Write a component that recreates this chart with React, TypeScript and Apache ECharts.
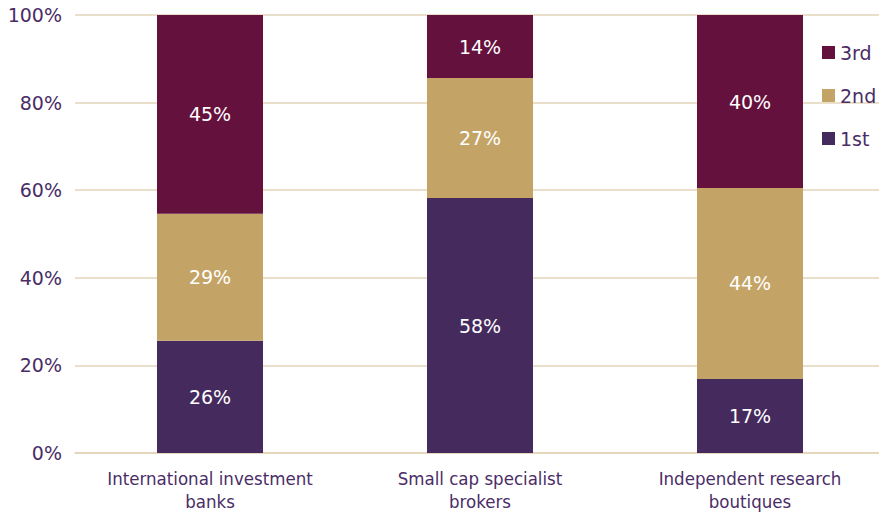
import React, { useEffect, useRef } from "react";
import * as echarts from "echarts";

const categories = [
  "International investment\nbanks",
  "Small cap specialist\nbrokers",
  "Independent research\nboutiques",
];
const first = [25.6, 58.2, 16.9];
const second = [29.0, 27.4, 43.6];
const third = [45.4, 14.4, 39.5];
const yTicks = [0, 20, 40, 60, 80, 100];

const PURPLE = "#452a5e";
const TAN = "#c4a466";
const MAROON = "#65113d";
const TEXT = "#4a2d66";
const GRID = "#e2d4b8";

export default function App() {
  const ref = useRef<HTMLDivElement>(null);
  useEffect(() => {
    if (!ref.current) return;
    const chart = echarts.init(ref.current, null, { renderer: "svg" });
    const label = {
      show: true,
      position: "inside",
      color: "#ffffff",
      fontSize: 19,
      fontFamily: "DejaVu Sans",
      formatter: (p: any) => Math.round(p.value) + "%",
    };
    chart.setOption({
      animation: false,
      grid: { left: 75, right: 0, top: 15, bottom: 61, containLabel: false },
      legend: {
        orient: "vertical",
        left: 817,
        top: 38,
        itemGap: 24,
        itemWidth: 13,
        itemHeight: 13,
        icon: "rect",
        data: ["3rd", "2nd", "1st"],
        textStyle: { color: TEXT, fontSize: 19, fontFamily: "DejaVu Sans" },
      },
      xAxis: {
        type: "category",
        data: categories,
        axisLine: { lineStyle: { color: GRID, width: 1.5 } },
        axisTick: { show: false },
        axisLabel: {
          color: TEXT,
          fontSize: 18.5,
          fontFamily: "DejaVu Sans Condensed",
          lineHeight: 23,
          margin: 14,
        },
      },
      yAxis: {
        type: "value",
        min: 0,
        max: 100,
        interval: 20,
        axisLine: { show: false },
        axisTick: { show: false },
        splitLine: { lineStyle: { color: GRID, width: 1.5 } },
        axisLabel: {
          color: TEXT,
          fontSize: 19,
          fontFamily: "DejaVu Sans",
          margin: 13,
          formatter: (v: number) => (yTicks.includes(v) ? v + "%" : ""),
        },
      },
      series: [
        { name: "1st", type: "bar", stack: "s", data: first, barWidth: 106, itemStyle: { color: PURPLE }, label },
        { name: "2nd", type: "bar", stack: "s", data: second, barWidth: 106, itemStyle: { color: TAN }, label },
        { name: "3rd", type: "bar", stack: "s", data: third, barWidth: 106, itemStyle: { color: MAROON }, label },
      ],
    });
    return () => chart.dispose();
  }, []);
  return (
    <div
      style={{
        position: "absolute",
        left: 0,
        top: 0,
        width: 879,
        height: 514,
        overflow: "hidden",
      }}
    >
      <div ref={ref} style={{ width: 885, height: 514 }} />
    </div>
  );
}
